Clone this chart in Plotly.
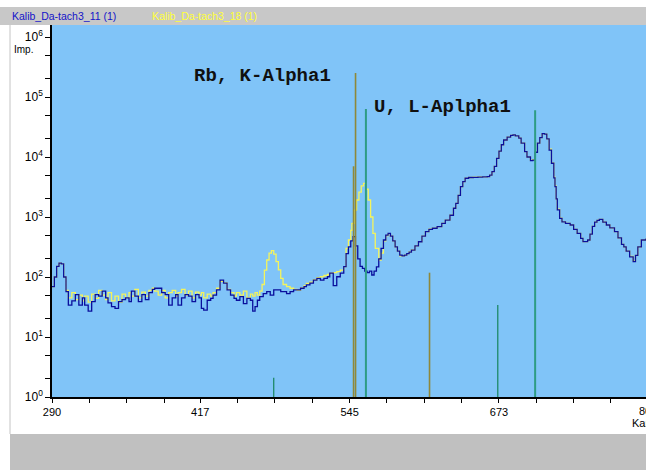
import plotly.graph_objects as go

# ---------------- data ----------------
blue_ch = [290, 292, 294, 296, 298, 300, 302, 304, 307, 310, 313, 316, 318, 321, 324, 327, 330, 333,
           336, 338, 341, 344, 347, 350, 353, 356, 358, 361, 364, 367, 370, 373, 376, 378, 381, 384,
           387, 390, 393, 396, 398, 401, 404, 407, 410, 413, 416, 418, 420, 423, 426, 428, 431, 434,
           437, 440, 443, 446, 448, 451, 454, 457, 460, 462, 464, 466, 468, 471, 474, 477, 480, 483,
           486, 488, 491, 494, 497, 500, 503, 506, 508, 511, 514, 517, 520, 523, 526, 528, 531, 534,
           537, 540, 542, 544, 546, 548, 550, 552, 554, 556, 558, 560, 562, 564, 566, 568, 570, 572,
           574, 576, 578, 580, 582, 584, 586, 588, 590, 592, 594, 596, 598, 601, 604, 607, 610, 613,
           616, 620, 624, 627, 631, 634, 636, 638, 640, 642, 644, 647, 651, 655, 659, 663, 665, 667,
           669, 671, 673, 675, 677, 680, 683, 685, 687, 690, 692, 695, 697, 700, 702, 704, 706, 708,
           710, 712, 714, 716, 718, 720, 721, 722, 723, 725, 727, 730, 734, 737, 740, 743, 745, 747,
           749, 751, 753, 755, 757, 759, 762, 765, 768, 772, 775, 778, 780, 782, 785, 788, 790, 792,
           795, 799]
blue_cnt = [69, 100, 150, 170, 165, 100, 57, 34, 40, 51, 34, 45, 34, 27, 39, 51, 48, 58,
            45, 37, 32, 30, 39, 42, 45, 39, 58, 48, 39, 51, 42, 55, 62, 65, 65, 55,
            51, 34, 45, 51, 34, 45, 51, 48, 39, 51, 45, 30, 28, 41, 44, 50, 61, 89,
            79, 61, 50, 44, 41, 47, 36, 44, 41, 27, 32, 41, 47, 53, 57, 50, 61, 61,
            57, 57, 53, 57, 61, 61, 65, 69, 74, 79, 89, 95, 89, 95, 101, 116, 72, 101,
            116, 149, 245, 318, 400, 470, 330, 200, 150, 139, 125, 118, 125, 108, 125, 148, 200, 300,
            414, 500, 533, 480, 400, 318, 270, 232, 225, 232, 245, 260, 280, 330, 387, 480, 569, 620,
            650, 690, 780, 890, 1070, 1400, 1690, 2300, 3200, 3900, 4420, 4550, 4580, 4620, 4650, 4700, 5000, 5690,
            7000, 9500, 12500, 16000, 19200, 21500, 23000, 23300, 22500, 20600, 17000, 12300, 10000, 8700, 8900, 12000, 17000, 21000,
            24500, 24000, 20000, 13000, 7870, 4500, 3200, 2000, 1310, 950, 830, 780, 735, 620, 533, 440, 390, 390,
            414, 520, 700, 820, 880, 910, 820, 735, 660, 569, 450, 350, 318, 270, 217, 180, 230, 318,
            414, 440]

yel_ch = [290, 292, 294, 296, 298, 300, 302, 304, 307, 310, 313, 316, 318, 321, 324, 327, 330, 333,
          336, 338, 341, 344, 347, 350, 353, 356, 358, 361, 364, 367, 370, 373, 376, 378, 381, 384,
          387, 390, 393, 396, 398, 401, 404, 407, 410, 413, 416, 418, 420, 423, 426, 428, 431, 434,
          437, 440, 443, 446, 448, 451, 454, 457, 460, 462, 464, 466, 468, 470, 472, 474, 476, 478,
          480, 482, 484, 486, 488, 491, 494, 497, 500, 503, 506, 508, 511, 514, 517, 520, 523, 526,
          528, 531, 534, 537, 540, 542, 544, 546, 547, 549, 551, 553, 555, 557, 559, 561, 563, 565,
          567, 570, 572, 574, 576, 578, 580, 582, 584, 586, 588, 590, 592, 594, 596, 598, 601, 604,
          607, 610, 613, 616, 620, 624, 627, 631, 634, 636, 638, 640, 642, 644, 647, 651, 655, 659,
          663, 665, 667, 669, 671, 673, 675, 677, 680, 683, 685, 687, 690, 692, 695, 697, 700, 702,
          704, 706, 708, 710, 712, 714, 716, 718, 720, 721, 722, 723, 725, 727, 730, 734, 737, 740,
          743, 745, 747, 749, 751, 753, 755, 757, 759, 762, 765, 768, 772, 775, 778, 780, 782, 785,
          788, 790, 792, 795, 799]
yel_cnt = [69, 100, 150, 170, 165, 100, 60, 45, 55, 42, 50, 40, 48, 38, 52, 44, 60, 50,
           42, 55, 40, 48, 38, 52, 45, 55, 48, 62, 45, 56, 48, 60, 65, 58, 50, 60,
           45, 55, 60, 48, 55, 62, 50, 58, 45, 56, 50, 55, 45, 52, 48, 55, 65, 85,
           80, 62, 55, 48, 55, 50, 58, 45, 52, 48, 55, 50, 58, 75, 130, 192, 250, 275,
           240, 180, 131, 95, 75, 69, 65, 62, 60, 66, 72, 78, 82, 90, 98, 101, 106, 110,
           116, 118, 123, 130, 149, 300, 414, 600, 780, 1300, 1920, 2600, 3300, 3640, 2900, 1920, 1000, 533,
           300, 192, 250, 400, 490, 530, 480, 400, 318, 270, 225, 225, 232, 245, 262, 282, 330, 390,
           480, 570, 625, 650, 690, 780, 890, 1070, 1400, 1690, 2300, 3200, 3900, 4420, 4550, 4600, 4650, 4650,
           4700, 5000, 5690, 7000, 9500, 12500, 16000, 19200, 21500, 23000, 23300, 22500, 20600, 17000, 12300, 10000, 8800, 9000,
           12000, 17000, 21000, 24500, 24000, 20000, 13500, 8000, 4600, 3300, 2000, 1350, 960, 840, 780, 735, 620, 533,
           440, 390, 390, 414, 520, 700, 820, 880, 910, 820, 740, 660, 570, 450, 350, 318, 270, 220,
           185, 230, 318, 414, 440]

# reference line markers (channel, height)
rb_ch = [548.4, 550.1, 613.5]
rb_h = [7000, 250000, 118]
u_main_ch = [559, 704]
u_main_h = [63000, 60000]
u_minor_ch = [480, 672]
u_minor_h = [2.1, 34]

x_tickvals = [290, 417, 545, 673]
x_ticktext = ["290", "417", "545", "673"]
x_minor = [322, 354, 386, 449, 481, 513, 577, 609, 641, 705, 737, 769]
y_tickvals = [1, 10, 100, 1000, 10000, 100000, 1000000]
y_ticktext = ["10<sup>0</sup>", "10<sup>1</sup>", "10<sup>2</sup>", "10<sup>3</sup>",
              "10<sup>4</sup>", "10<sup>5</sup>", "10<sup>6</sup>"]
y_minor = [2, 5, 20, 50, 200, 500, 2000, 5000, 20000, 50000, 200000, 500000]

series_names = ["Kalib_Da-tach3_11 (1)", "Kalib_Da-tach3_18 (1)"]

# ---------------- layout geometry (pixels) ----------------
W, H = 646, 470
L, R, T, B = 52, 0, 25, 73
pw, ph = W - L - R, H - T - B


def px(x):
    return (x - L) / pw


def py(y):
    return (H - B - y) / ph


def segs(chs, hs):
    xs, ys = [], []
    for c, h in zip(chs, hs):
        xs += [c, c, None]
        ys += [1, h, None]
    return xs, ys


fig = go.Figure()
fig.add_trace(go.Scatter(x=yel_ch, y=yel_cnt, mode="lines", name=series_names[1],
                         line=dict(color="#F4F45C", width=1.3, shape="hv")))
fig.add_trace(go.Scatter(x=blue_ch, y=blue_cnt, mode="lines", name=series_names[0],
                         line=dict(color="#0A0F9C", width=1.3, shape="hv")))

xs, ys = segs(rb_ch, rb_h)
fig.add_trace(go.Scatter(x=xs, y=ys, mode="lines", line=dict(color="#8E883A", width=1.6)))
xs, ys = segs(u_main_ch, u_main_h)
fig.add_trace(go.Scatter(x=xs, y=ys, mode="lines", line=dict(color="#2E9C84", width=2)))
xs, ys = segs(u_minor_ch, u_minor_h)
fig.add_trace(go.Scatter(x=xs, y=ys, mode="lines", line=dict(color="#15845C", width=1.2)))

txtfont = dict(family="Liberation Sans, Arial", size=11, color="black")

fig.update_layout(
    width=W, height=H,
    margin=dict(l=L, r=R, t=T, b=B, pad=0),
    paper_bgcolor="white",
    plot_bgcolor="#80C4F8",
    showlegend=False,
    font=txtfont,
    xaxis=dict(range=[290, 799], showgrid=False, zeroline=False,
               showline=True, linecolor="black", linewidth=1.5,
               ticks="outside", ticklen=4, tickwidth=1, tickcolor="black",
               tickvals=x_tickvals, ticktext=x_ticktext, tickfont=txtfont,
               minor=dict(tickvals=x_minor, ticks="outside", ticklen=4, tickcolor="black")),
    yaxis=dict(type="log", range=[0, 6.2], showgrid=False, zeroline=False,
               showline=True, linecolor="black", linewidth=1.5,
               ticks="outside", ticklen=5, tickwidth=1, tickcolor="black",
               tickvals=y_tickvals, ticktext=y_ticktext,
               tickfont=dict(family="Liberation Sans, Arial", size=12, color="black"),
               minor=dict(tickvals=y_minor, ticks="outside", ticklen=5, tickcolor="black")),
)

# window chrome
fig.add_shape(type="rect", xref="paper", yref="paper", x0=px(0), x1=px(W), y0=py(25), y1=py(7),
              fillcolor="#C8C8C8", line=dict(width=0), layer="below")
fig.add_shape(type="rect", xref="paper", yref="paper", x0=px(10), x1=px(W), y0=py(470), y1=py(434),
              fillcolor="#C0C0C0", line=dict(width=0), layer="below")
fig.add_shape(type="line", xref="paper", yref="paper", x0=px(10), x1=px(10), y0=py(434), y1=py(25),
              line=dict(color="#C4C4C4", width=1), layer="below")

ann = [
    dict(text=series_names[0], x=px(10), y=py(16), font=dict(family="Liberation Sans, Arial", size=10.5, color="#1414C8")),
    dict(text=series_names[1], x=px(150), y=py(16), font=dict(family="Liberation Sans, Arial", size=10.5, color="#FFFF3A")),
    dict(text="Imp.", x=px(12), y=py(49), font=dict(family="Liberation Sans, Arial", size=10, color="black")),
    dict(text="Kanal", x=px(630), y=py(423), font=txtfont),
]
for a in ann:
    fig.add_annotation(xref="paper", yref="paper", xanchor="left", yanchor="middle",
                       showarrow=False, **a)
fig.add_annotation(xref="paper", yref="paper", x=px(648), y=py(411), text="801", xanchor="center",
                   yanchor="middle", showarrow=False, font=txtfont)

labfont = dict(family="Liberation Mono, DejaVu Sans Mono", size=19, color="#101010")
fig.add_annotation(x=410.3, y=5.358, xref="x", yref="y", text="<b>Rb, K-Alpha1</b>",
                   xanchor="left", yanchor="middle", showarrow=False, font=labfont)
fig.add_annotation(x=564.4, y=4.838, xref="x", yref="y", text="<b>U, L-Aplpha1</b>",
                   xanchor="left", yanchor="middle", showarrow=False, font=labfont)

fig.write_html("out.html")
